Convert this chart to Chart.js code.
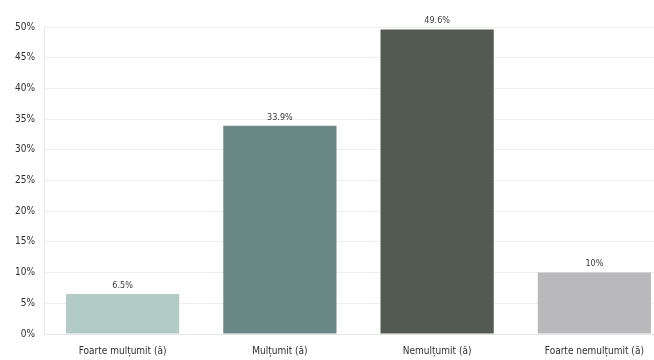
<!DOCTYPE html>
<html>
<head>
<meta charset="utf-8">
<script src="https://cdn.jsdelivr.net/npm/chart.js@4/dist/chart.umd.min.js"></script>
<style>
  html, body { margin: 0; padding: 0; background: #fff; overflow: hidden; }
  #wrap { width: 674px; height: 360px; }
</style>
</head>
<body>
<div id="wrap"><canvas id="chart" width="674" height="360"></canvas></div>
<script>
// categorii si valori (%)
const categories = ['Foarte mulțumit (ă)', 'Mulțumit (ă)', 'Nemulțumit (ă)', 'Foarte nemulțumit (ă)'];
const values = [6.5, 33.9, 49.6, 10];
const valueLabels = ['6.5%', '33.9%', '49.6%', '10%'];
const barColors = ['#b3cbc5', '#6a8886', '#535a51', '#b9b9bc'];

const FONT = "'Liberation Sans Narrow', 'DejaVu Sans Condensed', 'Liberation Sans', sans-serif";

// etichete deasupra barelor
const barLabels = {
  id: 'barLabels',
  afterDatasetsDraw(chart) {
    const c = chart.ctx;
    const meta = chart.getDatasetMeta(0);
    c.save();
    c.font = '9px ' + FONT;
    c.fillStyle = '#3a3a3a';
    c.textAlign = 'center';
    c.textBaseline = 'bottom';
    meta.data.forEach(function(bar, i) {
      c.fillText(valueLabels[i], bar.x, bar.y - 4);
    });
    c.restore();
  }
};

const ctx = document.getElementById('chart').getContext('2d');
new Chart(ctx, {
  type: 'bar',
  data: {
    labels: categories,
    datasets: [{
      data: values,
      backgroundColor: barColors,
      borderWidth: 0,
      barPercentage: 0.9,
      categoryPercentage: 0.8
    }]
  },
  options: {
    responsive: false,
    animation: false,
    layout: { padding: { top: 27, right: 1, left: 0, bottom: 0 } },
    plugins: {
      legend: { display: false },
      tooltip: { enabled: false }
    },
    scales: {
      x: {
        grid: { display: false, drawTicks: false },
        border: { color: '#e6e6e6' },
        ticks: { color: '#2e2e2e', font: { size: 10, family: FONT }, padding: 11, maxRotation: 0 },
        afterFit: function(s) { s.height = 26; }
      },
      y: {
        min: 0,
        max: 50,
        ticks: {
          stepSize: 5,
          color: '#2e2e2e',
          font: { size: 10, family: FONT },
          padding: 9,
          callback: function(v) { return v + '%'; }
        },
        grid: { color: '#eeeeee', drawTicks: false },
        border: { color: '#e6e6e6' },
        afterFit: function(s) { s.width = 44; }
      }
    }
  },
  plugins: [barLabels]
});
</script>
</body>
</html>
